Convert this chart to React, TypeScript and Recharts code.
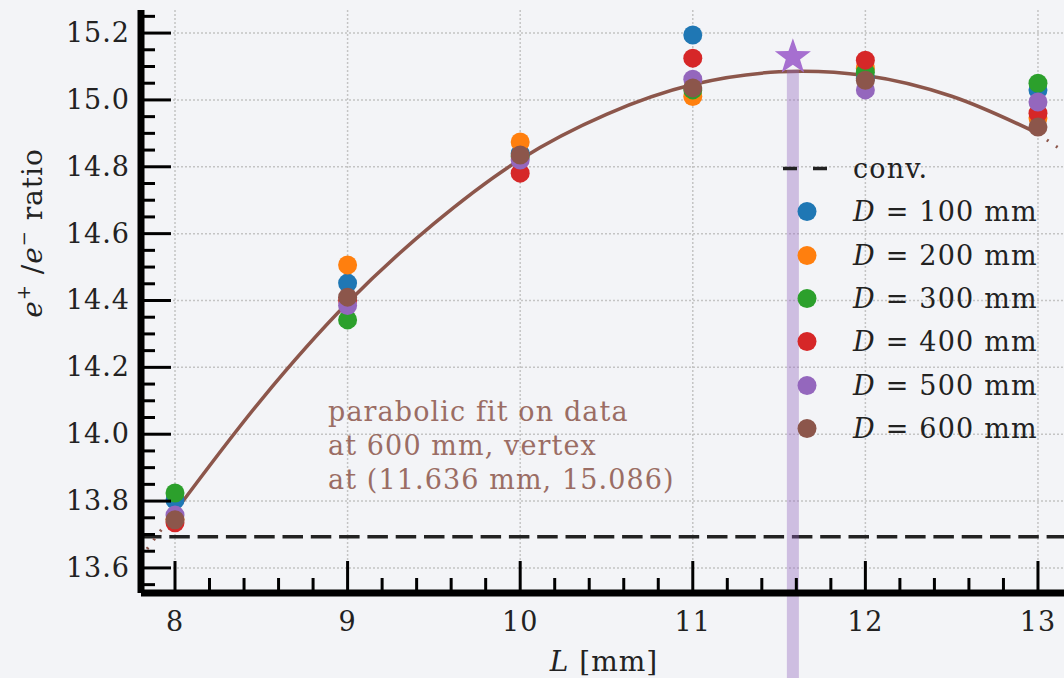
import React from 'react';
import { ComposedChart, Scatter, Line, XAxis, YAxis, CartesianGrid, ReferenceLine, Legend, Label } from 'recharts';

// L positions (mm) and e+/e- ratio for each D
const L_MM = [8, 9, 10, 11, 12, 13];
const D100 = [13.803, 14.452, 14.84, 15.194, 15.065, 15.03];
const D200 = [13.745, 14.506, 14.874, 15.01, 15.095, 14.946];
const D300 = [13.824, 14.342, 14.83, 15.03, 15.083, 15.05];
const D400 = [13.735, 14.4, 14.781, 15.125, 15.119, 14.96];
const D500 = [13.758, 14.385, 14.82, 15.062, 15.03, 14.994];
const D600 = [13.744, 14.41, 14.835, 15.036, 15.059, 14.919];

// parabolic fit (600 mm)
const FIT_X = [8, 8.5, 9, 9.5, 10, 10.5, 11, 11.5, 11.636, 12, 12.5, 13];
const FIT_Y = [13.768, 14.103, 14.393, 14.63, 14.822, 14.957, 15.046, 15.084, 15.086, 15.073, 15.011, 14.9];
const FIT_LEFT_X = [7.8, 7.9, 8];
const FIT_LEFT_Y = [13.63, 13.7, 13.768];
const FIT_RIGHT_X = [13, 13.08, 13.17];
const FIT_RIGHT_Y = [14.9, 14.87, 14.84];

const CONV = 13.693;
const STAR = { x: 11.58, y: 15.128 };

const X_MAJOR = [8, 9, 10, 11, 12, 13];
const Y_MAJOR = [13.6, 13.8, 14.0, 14.2, 14.4, 14.6, 14.8, 15.0, 15.2];
const X_TICKS = Array.from({ length: 26 }, (_, i) => +(8 + i * 0.2).toFixed(1));
const Y_TICKS = Array.from({ length: 35 }, (_, i) => +(13.55 + i * 0.05).toFixed(2));
const X_DOMAIN = [7.803, 13.174];
const Y_DOMAIN = [13.525, 15.269];

const SERIES = [
  { name: '100', color: '#1f77b4', values: D100 },
  { name: '200', color: '#ff7f0e', values: D200 },
  { name: '300', color: '#2ca02c', values: D300 },
  { name: '400', color: '#d62728', values: D400 },
  { name: '500', color: '#9467bd', values: D500 },
  { name: '600', color: '#8c564b', values: D600 },
];

const BG = '#f3f4f7';
const SERIF = '"DejaVu Serif", serif';
const INK = '#222';

const toPts = (xs: number[], ys: number[]) => xs.map((x, i) => ({ x, y: ys[i] }));
const isMajorX = (v: number) => Math.abs(v - Math.round(v)) < 1e-6;
const isMajorY = (v: number) => Math.abs(v * 5 - Math.round(v * 5)) < 1e-6;

const BottomTick = ({ x, y, payload }: any) => {
  const major = isMajorX(payload.value);
  return (
    <g>
      <line x1={x} x2={x} y1={y} y2={y - (major ? 32 : 15)} stroke="#000" strokeWidth={3} />
      {major && (
        <text x={x} y={y + 38} textAnchor="middle" fontFamily={SERIF} fontSize={27} letterSpacing={1} fill={INK}>
          {payload.value}
        </text>
      )}
    </g>
  );
};

const TopTick = ({ x, y, payload }: any) => {
  const major = isMajorX(payload.value);
  return <line x1={x} x2={x} y1={y} y2={y + (major ? 30 : 15)} stroke="#000" strokeWidth={3} />;
};

const LeftTick = ({ x, y, payload }: any) => {
  const major = isMajorY(payload.value);
  return (
    <g>
      <line x1={x} x2={x + (major ? 30 : 14)} y1={y} y2={y} stroke="#000" strokeWidth={3} />
      {major && (
        <text x={x - 11} y={y + 9} textAnchor="end" fontFamily={SERIF} fontSize={27} letterSpacing={1} fill={INK}>
          {payload.value.toFixed(1)}
        </text>
      )}
    </g>
  );
};

const RightTick = ({ x, y, payload }: any) => {
  const major = isMajorY(payload.value);
  return <line x1={x} x2={x - (major ? 30 : 14)} y1={y} y2={y} stroke="#000" strokeWidth={3} />;
};

const StarShape = ({ cx, cy }: any) => {
  const pts: string[] = [];
  for (let i = 0; i < 10; i++) {
    const r = i % 2 === 0 ? 19 : 7.5;
    const a = -Math.PI / 2 + (i * Math.PI) / 5;
    pts.push(`${cx + r * Math.cos(a)},${cy + r * Math.sin(a)}`);
  }
  return <polygon points={pts.join(' ')} fill="#a66fd0" />;
};

const renderLegend = () => (
  <div style={{ fontFamily: SERIF, fontSize: 27, letterSpacing: 1.2, color: INK, whiteSpace: 'pre' }}>
    <div style={{ display: 'flex', alignItems: 'center', height: 43.3 }}>
      <svg width={73} height={43}>
        <line x1={3} x2={48} y1={21.5} y2={21.5} stroke={INK} strokeWidth={3.5} strokeDasharray="14 16" />
      </svg>
      <span>conv.</span>
    </div>
    {SERIES.map((s) => (
      <div key={s.name} style={{ display: 'flex', alignItems: 'center', height: 43.3 }}>
        <svg width={73} height={43}>
          <circle cx={27} cy={21.5} r={9.5} fill={s.color} />
        </svg>
        <span>
          <i>D</i>{' = '}{s.name} mm
        </span>
      </div>
    ))}
  </div>
);

export default function App() {
  return (
    <div style={{ position: 'fixed', left: 0, top: 0, width: 1064, height: 678, overflow: 'hidden', background: BG }}>
      <ComposedChart width={1080} height={678} margin={{ top: 10, right: 12, bottom: 0, left: 0 }}>
        <CartesianGrid
          stroke="#c4c4c4"
          strokeDasharray="2 2"
          strokeWidth={1.5}
          horizontalValues={Y_MAJOR}
          verticalValues={X_MAJOR}
        />
        <XAxis
          xAxisId={0}
          type="number"
          dataKey="x"
          domain={X_DOMAIN}
          allowDataOverflow
          ticks={X_TICKS}
          interval={0}
          height={85}
          tickSize={0}
          tickMargin={0}
          tickLine={false}
          axisLine={{ stroke: '#000', strokeWidth: 7 }}
          tick={(p: any) => <BottomTick {...p} />}
        >
          <Label
            content={() => (
              <text x={604} y={671} textAnchor="middle" fontFamily={SERIF} fontSize={28} letterSpacing={1} fill={INK}>
                <tspan fontStyle="italic">L</tspan> [mm]
              </text>
            )}
          />
        </XAxis>
        <XAxis
          xAxisId="top"
          orientation="top"
          type="number"
          dataKey="x"
          domain={X_DOMAIN}
          allowDataOverflow
          ticks={X_TICKS}
          interval={0}
          height={0}
          tickSize={0}
          tickMargin={0}
          tickLine={false}
          axisLine={{ stroke: '#000', strokeWidth: 7 }}
          tick={(p: any) => <TopTick {...p} />}
        />
        <YAxis
          yAxisId={0}
          type="number"
          dataKey="y"
          domain={Y_DOMAIN}
          allowDataOverflow
          ticks={Y_TICKS}
          interval={0}
          width={141}
          tickSize={0}
          tickMargin={0}
          tickLine={false}
          axisLine={{ stroke: '#000', strokeWidth: 7 }}
          tick={(p: any) => <LeftTick {...p} />}
        >
          <Label
            content={() => (
              <text
                x={42}
                y={233}
                transform="rotate(-90 42 233)"
                textAnchor="middle"
                fontFamily={SERIF}
                fontSize={28}
                letterSpacing={1}
                fill={INK}
              >
                <tspan fontStyle="italic">e</tspan>
                <tspan fontSize={18} dy={-12}>+</tspan>
                <tspan dy={12}> /</tspan>
                <tspan fontStyle="italic">e</tspan>
                <tspan fontSize={18} dy={-12}>−</tspan>
                <tspan dy={12}> ratio</tspan>
              </text>
            )}
          />
        </YAxis>
        <YAxis
          yAxisId="right"
          orientation="right"
          type="number"
          domain={Y_DOMAIN}
          allowDataOverflow
          ticks={Y_TICKS}
          interval={0}
          width={0}
          tickSize={0}
          tickMargin={0}
          tickLine={false}
          axisLine={{ stroke: '#000', strokeWidth: 7 }}
          tick={(p: any) => <RightTick {...p} />}
        />

        <ReferenceLine y={CONV} stroke={INK} strokeWidth={3.5} strokeDasharray="20.5 7.8" />

        <Line
          data={toPts(FIT_LEFT_X, FIT_LEFT_Y)}
          dataKey="y"
          type="monotone"
          stroke="#8c564b"
          strokeWidth={3}
          strokeDasharray="2 9"
          dot={false}
          isAnimationActive={false}
        />
        <Line
          data={toPts(FIT_RIGHT_X, FIT_RIGHT_Y)}
          dataKey="y"
          type="monotone"
          stroke="#8c564b"
          strokeWidth={3}
          strokeDasharray="2 9"
          dot={false}
          isAnimationActive={false}
        />
        <Line
          data={toPts(FIT_X, FIT_Y)}
          dataKey="y"
          type="monotone"
          stroke="#8c564b"
          strokeWidth={3.5}
          dot={false}
          isAnimationActive={false}
        />

        {SERIES.map((s) => (
          <Scatter
            key={s.name}
            name={`D = ${s.name} mm`}
            data={toPts(L_MM, s.values)}
            fill={s.color}
            shape={(p: any) => <circle cx={p.cx} cy={p.cy} r={9.5} fill={s.color} />}
            isAnimationActive={false}
          />
        ))}

        <Scatter data={[STAR]} shape={(p: any) => <StarShape {...p} />} isAnimationActive={false} />

        <ReferenceLine
          segment={[
            { x: STAR.x, y: 15.09 },
            { x: STAR.x, y: 13.2 },
          ]}
          ifOverflow="visible"
          stroke="#9467bd"
          strokeOpacity={0.38}
          strokeWidth={12}
        />

        <Legend
          layout="vertical"
          align="center"
          verticalAlign="middle"
          content={renderLegend}
          wrapperStyle={{ left: 780, top: 147, width: 300 }}
        />
      </ComposedChart>

      <div
        style={{
          position: 'absolute',
          left: 328,
          top: 395,
          fontFamily: SERIF,
          fontSize: 27,
          letterSpacing: 1.1,
          lineHeight: '34px',
          color: '#8c564b',
          opacity: 0.85,
          whiteSpace: 'pre',
        }}
      >
        {'parabolic fit on data\nat 600 mm, vertex\nat (11.636 mm, 15.086)'}
      </div>
    </div>
  );
}
